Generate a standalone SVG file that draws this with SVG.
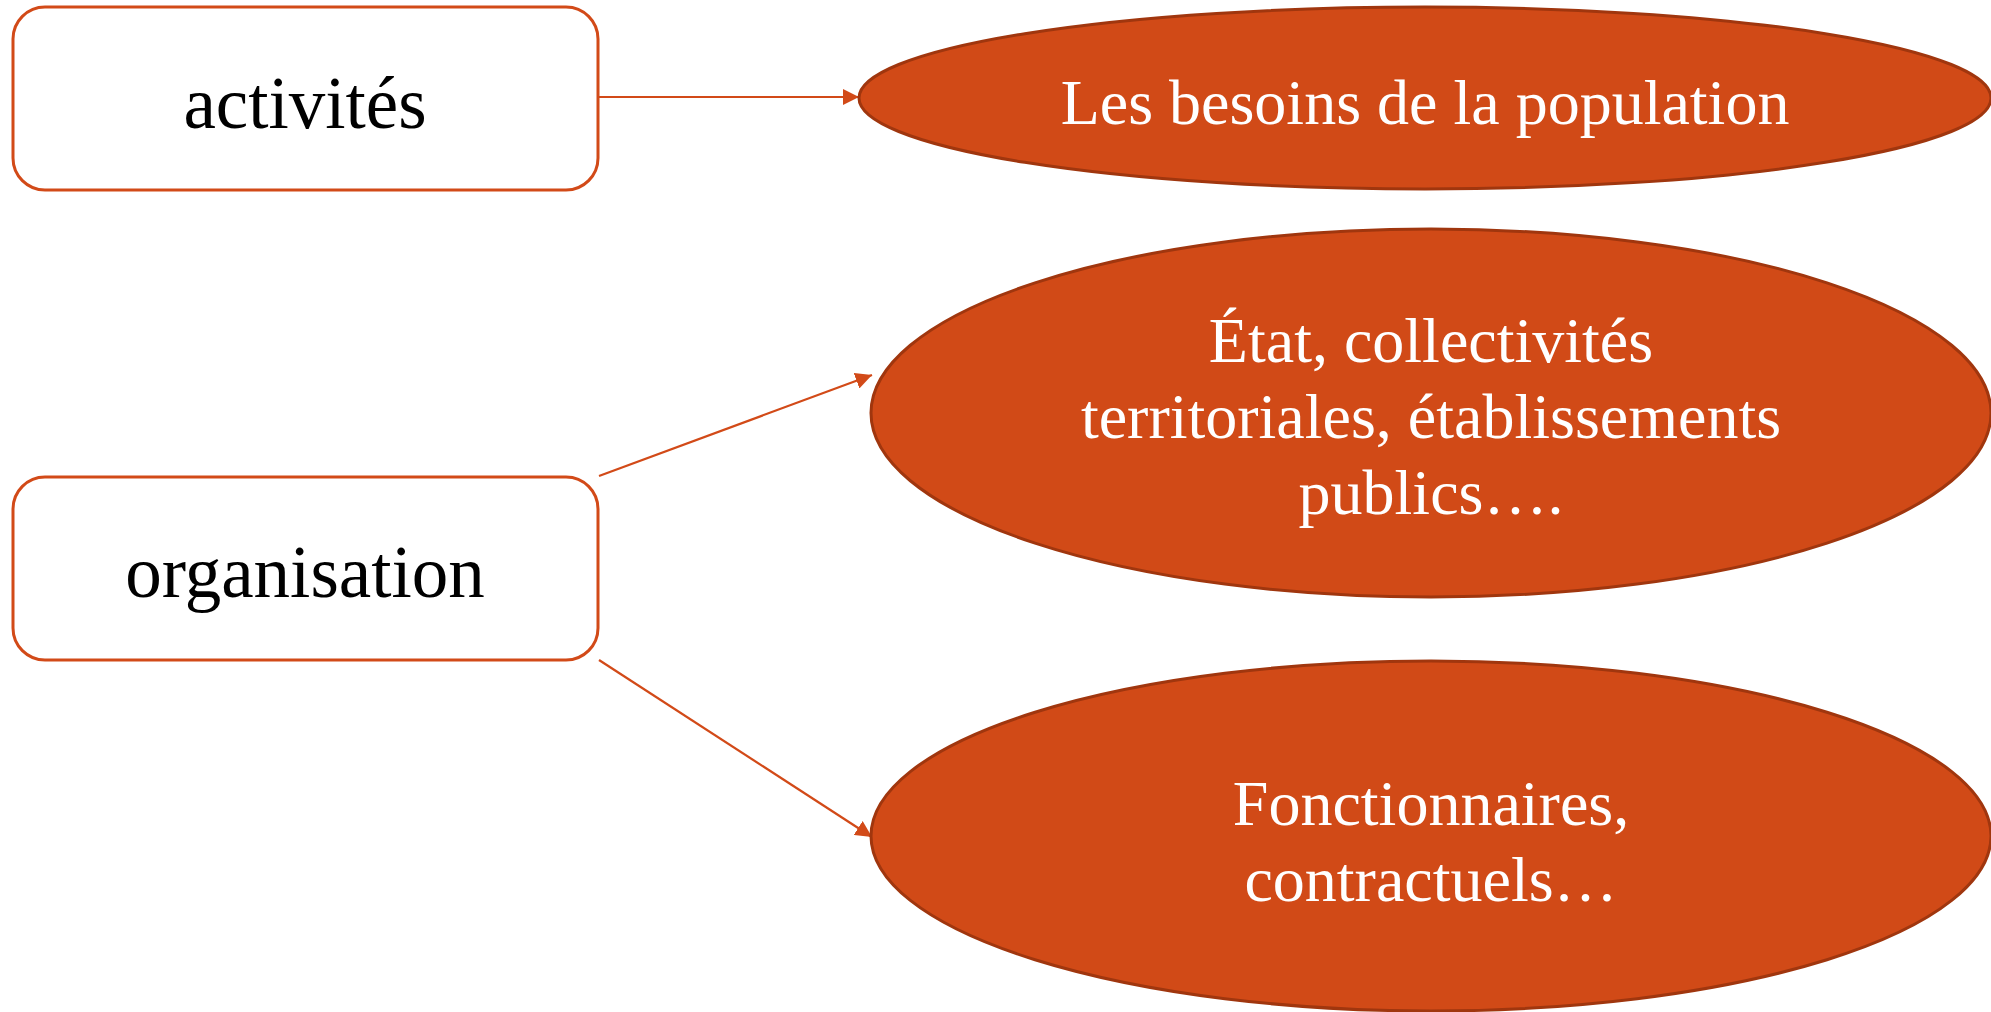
<svg xmlns="http://www.w3.org/2000/svg" width="1991" height="1012" viewBox="0 0 1991 1012">
<style>
.box{fill:#ffffff;stroke:#D24A18;stroke-width:3}
.ell{fill:#D14A17;stroke:#A0360E;stroke-width:3}
.bt{font-family:"Liberation Serif","Times New Roman",serif;font-size:73px;fill:#000;text-anchor:middle}
.et{font-family:"Liberation Serif","Times New Roman",serif;font-size:64px;fill:#fff;text-anchor:middle}
.conn{stroke:#D24A18;stroke-width:2.2;fill:none;marker-end:url(#arr)}
</style>
<defs>
<marker id="arr" viewBox="0 0 10 10" refX="10" refY="5" markerWidth="7.5" markerHeight="7.5" orient="auto" markerUnits="strokeWidth">
<path d="M0,0 L10,5 L0,10 z" fill="#D24A18"/>
</marker>
</defs>
<g id="connectors">
<line class="conn" x1="599" y1="97" x2="859" y2="97"/>
<line class="conn" x1="599" y1="476" x2="872" y2="375"/>
<line class="conn" x1="599" y1="660" x2="872" y2="837"/>
</g>
<g id="node-activites">
<rect class="box" x="13" y="7" width="585" height="183" rx="32" ry="32"/>
<text class="bt" x="305" y="128">activités</text>
</g>
<g id="node-organisation">
<rect class="box" x="13" y="477" width="585" height="183" rx="32" ry="32"/>
<text class="bt" x="305" y="597">organisation</text>
</g>
<g id="node-besoins">
<ellipse class="ell" cx="1425" cy="98" rx="566" ry="91"/>
<text class="et" x="1425" y="124">Les besoins de la population</text>
</g>
<g id="node-etat">
<ellipse class="ell" cx="1431" cy="413" rx="560" ry="184"/>
<text class="et" x="1431" y="362">État, collectivités</text>
<text class="et" x="1431" y="438">territoriales, établissements</text>
<text class="et" x="1431" y="514">publics….</text>
</g>
<g id="node-fonctionnaires">
<ellipse class="ell" cx="1431" cy="836" rx="560" ry="175"/>
<text class="et" x="1431" y="825">Fonctionnaires,</text>
<text class="et" x="1431" y="901">contractuels…</text>
</g>
</svg>
